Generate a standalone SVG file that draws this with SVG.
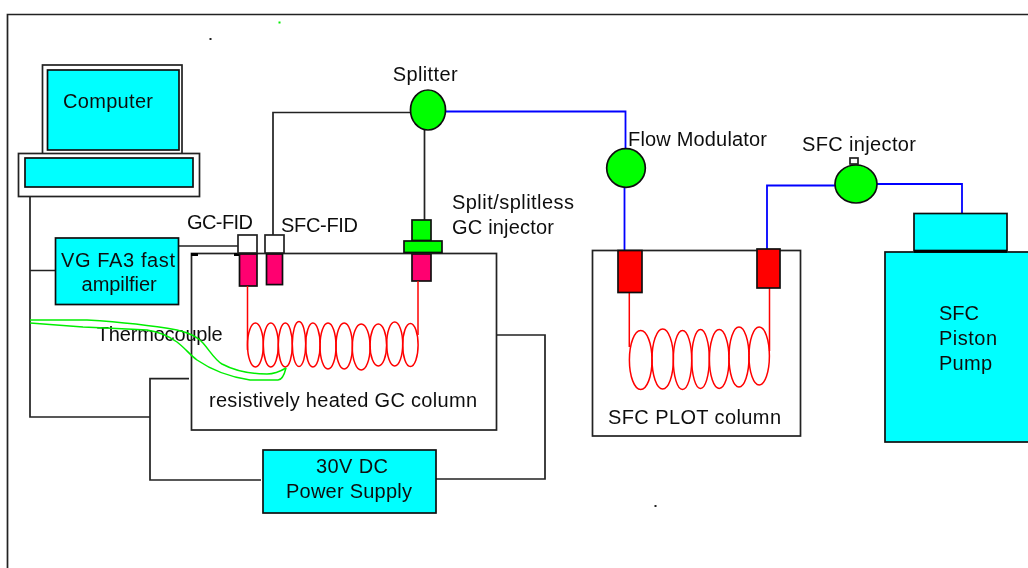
<svg xmlns="http://www.w3.org/2000/svg" width="1028" height="568" viewBox="0 0 1028 568">
<defs><filter id="soft" x="0" y="0" width="100%" height="100%" filterUnits="userSpaceOnUse"><feGaussianBlur stdDeviation="0.4"/></filter></defs>
<style>
text{font-family:"Liberation Sans",Arial,sans-serif;font-size:20px;fill:#111}
.b{fill:none;stroke:#222;stroke-width:1.700}
.c{fill:#00ffff;stroke:#111;stroke-width:1.700}
.w{fill:#fff;stroke:#222;stroke-width:1.700}
.g{fill:#00ff00;stroke:#111;stroke-width:1.700}
.p{fill:#ff0070;stroke:#111;stroke-width:1.700}
.r{fill:#ff0000;stroke:#111;stroke-width:1.700}
.k{fill:none;stroke:#222;stroke-width:1.700}
.u{fill:none;stroke:#0000ff;stroke-width:1.800}
.t{fill:none;stroke:#ff0000;stroke-width:1.500}
.l{fill:none;stroke:#00ee00;stroke-width:1.500}
</style>
<rect width="1028" height="568" fill="#fff"/>
<g filter="url(#soft)">
<path id="frame" d="M7.500 568V14.500H1028" class="b"/>
<rect x="209.500" y="38" width="2" height="2" fill="#222"/>
<rect x="278.500" y="21.500" width="2" height="2" fill="#00ee00"/>
<rect x="654.500" y="505" width="2" height="2" fill="#222"/>

<g id="gc-oven"><rect x="191.500" y="253.500" width="305" height="176.500" class="w"/><path d="M191 254.500H198M234 254.500H257" stroke="#000" stroke-width="3"/><text x="209" y="406.700" textLength="268">resistively heated GC column</text></g>
<g id="sfc-oven"><rect x="592.500" y="250.500" width="208" height="185.500" class="w"/><text x="608" y="424" textLength="173">SFC PLOT column</text></g>

<g id="connectors">
<path class="k" d="M30 197V417H150M30 270.500H55.500M179 246H240"/>
<path class="k" d="M273 235V112.500H410M424.500 130V220"/>
<path class="k" d="M189 378.700H150V480H261M436 479H545V335H497"/>
<path class="u" d="M446 111.500H625.500V150M624.500 187V250"/>
<path class="u" d="M767 250V185.500H835M877 184H962V213"/>
</g>

<g id="computer"><rect x="42.500" y="65" width="139.500" height="89" class="w"/><rect x="47.500" y="70" width="131.500" height="80" class="c"/><rect x="18.500" y="153.500" width="181" height="43" class="w"/><rect x="25" y="158" width="168" height="29" class="c"/><text x="63" y="108" textLength="90">Computer</text></g>
<g id="amplifier"><rect x="55.500" y="238" width="123" height="66.500" class="c"/><text x="61" y="266.500" textLength="114">VG FA3 fast</text><text x="81.600" y="291" textLength="75">ampilfier</text></g>
<g id="gc-fid"><rect x="238" y="235" width="19" height="18" class="w"/><rect x="239.500" y="254" width="17.500" height="32" class="p"/><text x="187" y="229" textLength="66">GC-FID</text></g>
<g id="sfc-fid"><rect x="265" y="235" width="19" height="18" class="w"/><rect x="266.500" y="254" width="16" height="30.600" class="p"/><text x="281" y="232" textLength="77">SFC-FID</text></g>
<g id="splitter"><ellipse cx="428" cy="110" rx="17.500" ry="20" class="g"/><text x="392.700" y="80.700" textLength="65">Splitter</text></g>
<g id="gc-injector"><rect x="412" y="220" width="19" height="20.500" class="g"/><rect x="404" y="241" width="38" height="11.500" class="g"/><rect x="412" y="254" width="19" height="27" class="p"/><text x="452" y="209" textLength="122">Split/splitless</text><text x="452" y="234" textLength="102">GC injector</text></g>
<g id="flow-modulator"><circle cx="626" cy="168" r="19.300" class="g"/><text x="628" y="146" textLength="139">Flow Modulator</text></g>
<g id="sfc-injector"><rect x="850" y="158" width="8" height="6" class="w"/><ellipse cx="856" cy="184" rx="21" ry="19" class="g"/><text x="802" y="151" textLength="114">SFC injector</text></g>
<g id="pump"><rect x="914" y="213.500" width="93" height="37" class="c"/><rect x="885" y="252" width="150" height="190" class="c"/><path d="M914 251.500H1007" stroke="#000" stroke-width="2.500"/><text x="939" y="320" textLength="40">SFC</text><text x="939" y="345" textLength="58">Piston</text><text x="939" y="370" textLength="53">Pump</text></g>
<g id="power-supply"><rect x="263" y="450" width="173" height="63" class="c"/><text x="316" y="473" textLength="72">30V DC</text><text x="286" y="498" textLength="126">Power Supply</text></g>

<g id="gc-column" class="t">
<path d="M247.500 286V350M418 281V335"/>
<ellipse cx="255.400" cy="345" rx="7.900" ry="22"/><ellipse cx="270.800" cy="345" rx="7.500" ry="22"/><ellipse cx="285.300" cy="345" rx="7" ry="22"/><ellipse cx="299" cy="344" rx="6.700" ry="22.500"/><ellipse cx="312.900" cy="345" rx="7.200" ry="22"/><ellipse cx="328" cy="346" rx="8" ry="23"/><ellipse cx="344.200" cy="346" rx="8.200" ry="23"/><ellipse cx="361.200" cy="347" rx="8.900" ry="23"/><ellipse cx="378.300" cy="345" rx="8.300" ry="21"/><ellipse cx="394.700" cy="344" rx="8" ry="22"/><ellipse cx="410.400" cy="345" rx="7.700" ry="21.500"/>
</g>
<g id="sfc-column" class="t">
<path d="M629.300 292V347M769.500 288V351"/>
<ellipse cx="640.700" cy="360" rx="11.300" ry="29.500"/><ellipse cx="662.700" cy="359" rx="10.700" ry="30"/><ellipse cx="682.500" cy="360" rx="9.200" ry="29.500"/><ellipse cx="700.500" cy="359" rx="8.800" ry="29.500"/><ellipse cx="719.200" cy="359" rx="9.800" ry="29.500"/><ellipse cx="739" cy="357" rx="10" ry="30"/><ellipse cx="759.200" cy="356" rx="10.200" ry="29"/>
</g>
<g id="sfc-ports"><rect x="618" y="250.500" width="24" height="42" class="r"/><rect x="757" y="249" width="23" height="39" class="r"/></g>

<text id="thermocouple-label" x="96.700" y="340.700" textLength="126">Thermocouple</text>
<g id="thermocouple" class="l">
<path d="M30 320H87C120 322 155 326 177 330C190 333 198 337 203 343C210 351 215 360 222 364C235 371 250 374 267 374C275 374 281 371 286 368"/>
<path d="M30 323L83 327C110 328 130 329 147 330C160 332 170 337 177 342C185 348 190 355 197 360C210 369 230 377 250 380H278C282 380 284 376 286 368"/>
</g>
</g>
</svg>
